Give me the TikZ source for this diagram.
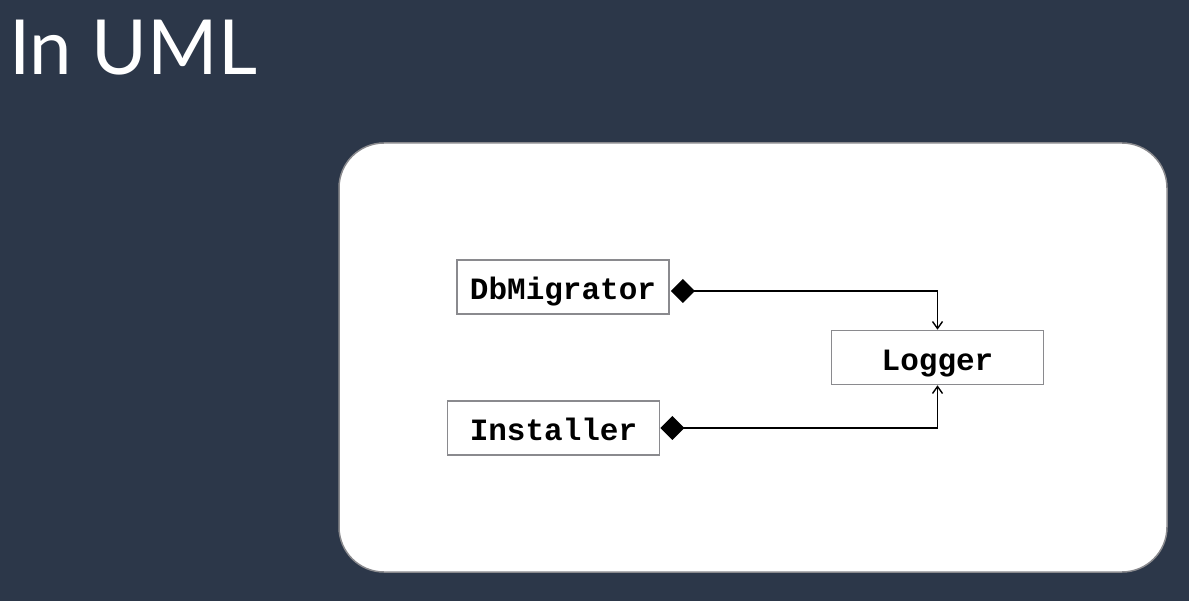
\documentclass[tikz,border=0pt]{standalone}
\usepackage{fontspec}
\setmainfont{Lato}
\setmonofont{Liberation Mono}
\usetikzlibrary{arrows.meta}

\definecolor{folie}{HTML}{2C3749}
\definecolor{rahmen}{HTML}{8A8A8E}

\begin{document}
\begin{tikzpicture}[x = 1pt, y = -1pt]
		\tikzstyle{every node} = [inner sep = 0pt]
		\tikzstyle{klasse} = [draw = rahmen, line width = 1.6pt, fill = white,
			minimum width = 212pt, minimum height = 54pt, text height = 26pt, text depth = 0pt,
			font = \fontsize{31}{31}\ttfamily\bfseries]
		\tikzstyle{komposition} = [draw = black, line width = 1.8pt,
			{Diamond[length = 24pt, width = 24pt]}-{Straight Barb[length = 7pt, width = 10pt, line width = 1.4pt]}]

% Hintergrund
\fill[folie] (0,0) rectangle (1189,601);
\useasboundingbox (0,0) rectangle (1189,601);

% Titel
\node[anchor = base west, text = white, font = \fontsize{76}{76}\selectfont] (titel) at (9,75) {In UML};

% Zeichenfläche
\draw[draw = rahmen, fill = white, line width = 1.5pt, rounded corners = 45pt]
	(339,143) rectangle (1167,572);

% Klassen
\node[klasse] (db) at (563,287) {DbMigrator};
\node[klasse] (inst) at (553.5,428) {Installer};
\node[klasse] (log) at (937.5,357.5) {Logger};

% Beziehungen
\draw[komposition] ([xshift = 1pt, yshift = -4pt]db.east) -| (log.north);
\draw[komposition] (inst.east) -| (log.south);

	\end{tikzpicture}
\end{document}
